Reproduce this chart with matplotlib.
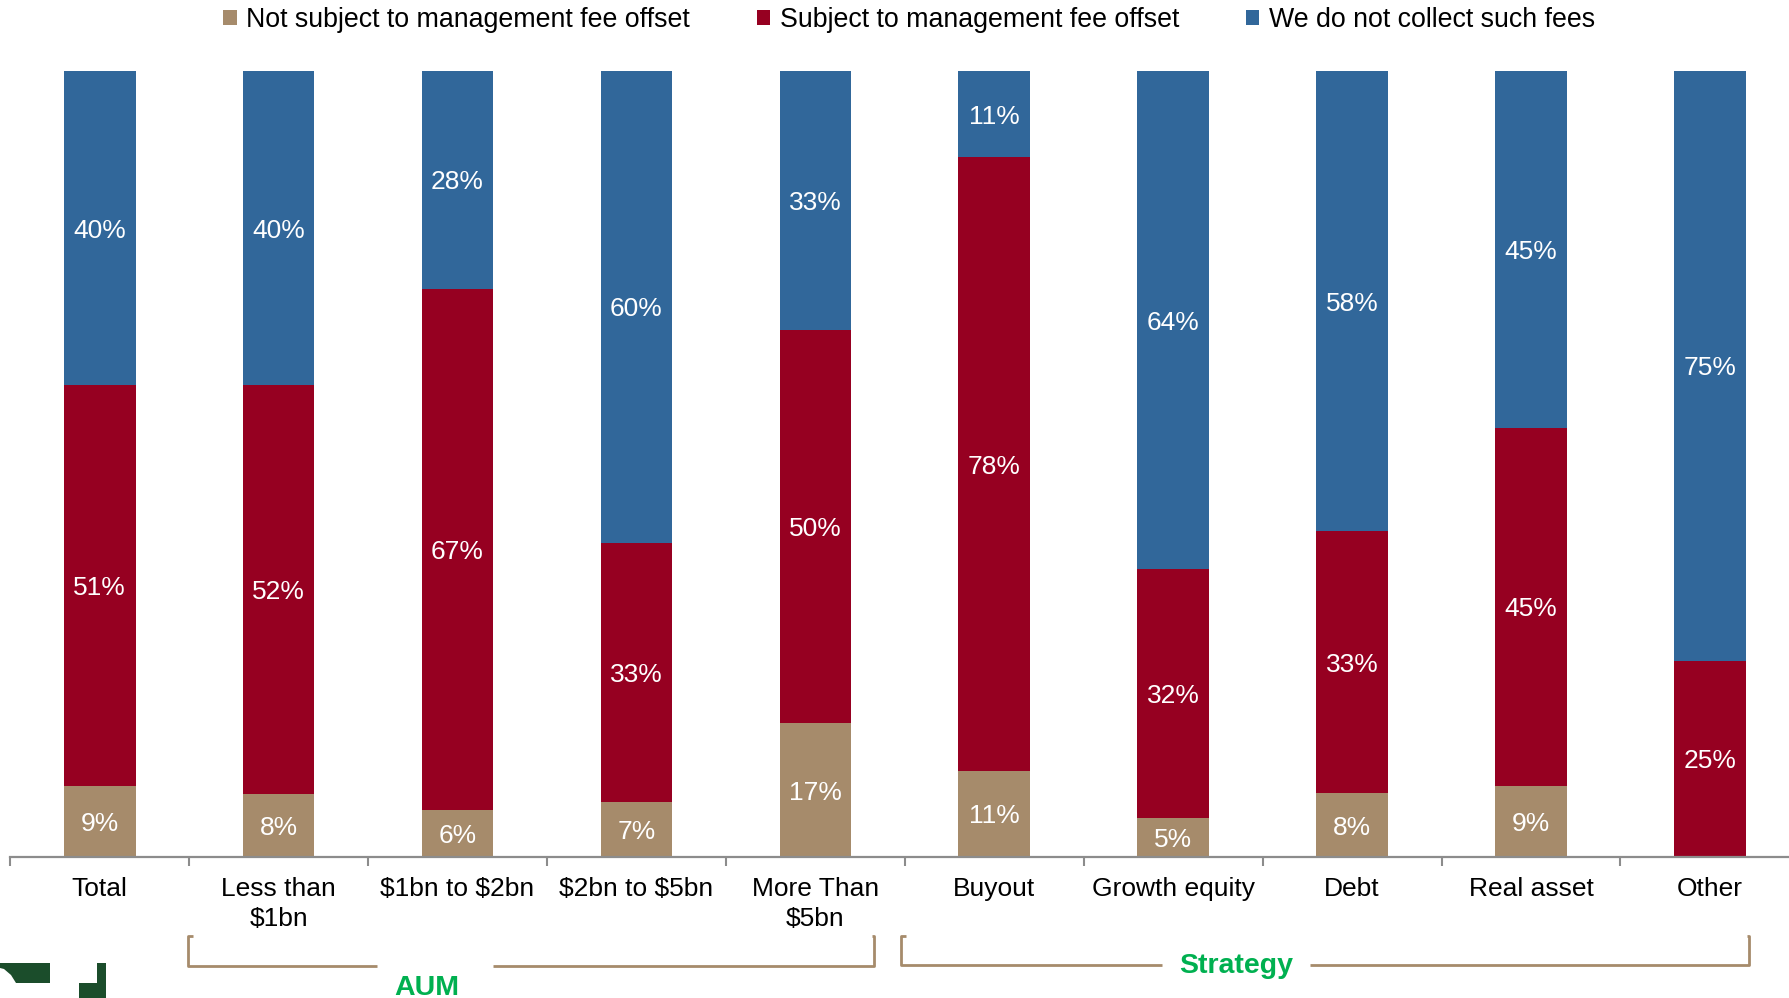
import numpy as np
import matplotlib
matplotlib.use("Agg")
import matplotlib.pyplot as plt
from matplotlib.patches import Patch, Polygon, Rectangle
from matplotlib.lines import Line2D

plt.rcParams['font.family'] = ['Liberation Sans', 'DejaVu Sans']
plt.rcParams['text.parse_math'] = False

# ---- data -------------------------------------------------------------
categories = ["Total", "Less than\n$1bn", "$1bn to $2bn", "$2bn to $5bn",
              "More Than\n$5bn", "Buyout", "Growth equity", "Debt",
              "Real asset", "Other"]
not_subject = [9, 8, 6, 7, 17, 11, 5, 8, 9, 0]
subject = [51, 52, 67, 33, 50, 78, 32, 33, 45, 25]
no_fees = [40, 40, 28, 60, 33, 11, 64, 58, 45, 75]
series_names = ["Not subject to management fee offset",
                "Subject to management fee offset",
                "We do not collect such fees"]
group_names = ["AUM", "Strategy"]

colors = ["#A68B6B", "#960021", "#31679A"]
axis_grey = "#8C8C8C"
bracket_col = "#A68B6B"
group_green = "#00B050"

W, H = 1789, 998
fig = plt.figure(figsize=(W / 100, H / 100), dpi=100)


def fx(px):
    return px / W


def fy(py):
    return 1 - py / H


# axes: one category slot is ~179 px wide, baseline at y=857, top at y=71
ax = fig.add_axes([fx(10.3), fy(857), 1.0, (857 - 71) / H])

series = np.array([not_subject, subject, no_fees], dtype=float)
totals = series.sum(axis=0)
shares = series / totals * 100  # 100% stacked columns

x = np.arange(len(categories))
bottom = np.zeros(len(categories))
for vals, shr, col, name in zip(series, shares, colors, series_names):
    ax.bar(x, shr, width=0.40, bottom=bottom, color=col,
           label=name, linewidth=0)
    for xi, v, b, s in zip(x, vals, bottom, shr):
        if v > 0:
            ax.text(xi, b + s / 2, f"{int(v)}%", ha="center",
                    va="center_baseline", color="white", fontsize=19)
    bottom += shr

ax.set_xlim(-0.5, len(categories) - 0.5)
ax.set_ylim(0, 100)
for side in ("left", "right", "top"):
    ax.spines[side].set_visible(False)
ax.spines["bottom"].set_color(axis_grey)
ax.spines["bottom"].set_linewidth(1.6)
ax.set_yticks([])
ax.set_xticks(x)
ax.set_xticklabels(categories, fontsize=19, linespacing=1.3)
ax.set_xticks(np.arange(-0.5, len(categories), 1.0), minor=True)
ax.tick_params(axis="x", which="major", length=0, pad=14.5)
ax.tick_params(axis="x", which="minor", length=6.5, width=1.5,
               color=axis_grey, direction="out")

# legend along the top
handles = [Patch(facecolor=c, edgecolor="none") for c in colors]
fig.legend(handles, series_names, loc="center", ncol=3,
           bbox_to_anchor=(fx(909), fy(20)), frameon=False, fontsize=19.3,
           handlelength=0.5, handleheight=0.5, handletextpad=0.35,
           columnspacing=2.5, borderpad=0, borderaxespad=0)


# group brackets under the category labels
def bracket(x0, x1, gap0, gap1, top, bot, label, label_x, label_y):
    kw = dict(color=bracket_col, linewidth=2, transform=fig.transFigure,
              solid_capstyle="butt")
    fig.add_artist(Line2D([fx(x0 + 5), fx(x0), fx(x0), fx(gap0)],
                          [fy(top), fy(top), fy(bot), fy(bot)], **kw))
    fig.add_artist(Line2D([fx(gap1), fx(x1), fx(x1), fx(x1 - 2)],
                          [fy(bot), fy(bot), fy(top), fy(top)], **kw))
    fig.text(fx(label_x), fy(label_y), label, ha="center",
             va="center", color=group_green, fontsize=20.5,
             fontweight="bold")


bracket(188, 874, 377, 493, 936, 966, group_names[0], 427, 988)
bracket(901, 1749, 1162, 1310, 936, 965, group_names[1], 1236, 966)

# logo fragment at the lower-left corner
logo = "#1B4D2B"
fig.add_artist(Polygon([(fx(0), fy(963)), (fx(50), fy(963)), (fx(50), fy(983)),
                        (fx(16), fy(983)), (fx(11), fy(975)), (fx(4), fy(969)),
                        (fx(0), fy(968))],
                       closed=True, facecolor=logo, edgecolor="none",
                       transform=fig.transFigure))
fig.add_artist(Rectangle((fx(97), fy(998)), fx(9), (998 - 963) / H,
                         facecolor=logo, edgecolor="none",
                         transform=fig.transFigure))
fig.add_artist(Rectangle((fx(79), fy(998)), fx(27), (998 - 983) / H,
                         facecolor=logo, edgecolor="none",
                         transform=fig.transFigure))

fig.savefig("out.png", dpi=100, facecolor="white")
